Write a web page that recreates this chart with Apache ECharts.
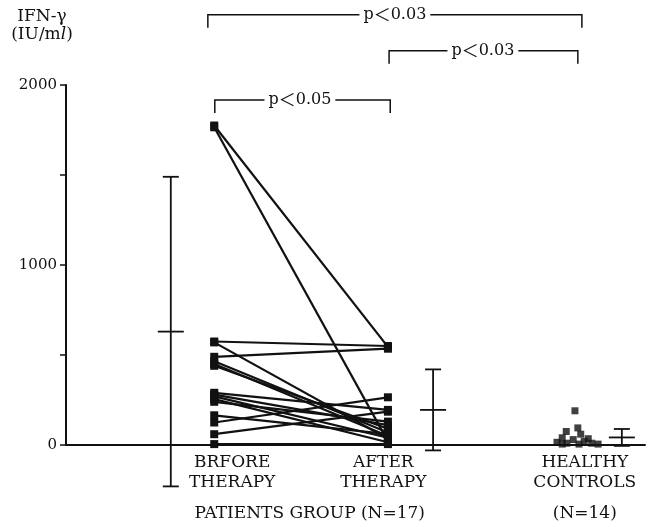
<!DOCTYPE html>
<html>
<head>
<meta charset="utf-8">
<script src="https://cdn.jsdelivr.net/npm/echarts@6/dist/echarts.min.js"></script>
<style>
  html, body { margin: 0; padding: 0; background: #fff; }
  #chart { width: 651px; height: 527px; }
</style>
</head>
<body>
<div id="chart"></div>
<script>
// IFN-γ, patients before / after therapy (paired), healthy controls
const beforeVals = [1775, 1765, 575, 570, 490, 465, 450, 440, 290, 280, 270, 255, 240, 165, 125, 60, 5];
const afterVals  = [545, 20, 550, 35, 535, 70, 50, 90, 195, 110, 40, 15, 130, 60, 265, 185, 5];

const healthyVals   = [190, 95, 75, 60, 40, 35, 30, 20, 15, 10, 10, 5, 5, 5];
const healthyJitter = [-0.4, 0.1, -1.9, 0.6, -2.6, 1.9, -0.7, 1.2, -3.5, -1.8, 2.5, 0.3, 3.6, -2.6];

// mean ± SD bars
const statMeans = [630, 195, 42];
const statSD    = [860, 225, 47];

const groupLabels = ['BRFORE\nTHERAPY', 'AFTER\nTHERAPY', 'HEALTHY\nCONTROLS'];
const footLabels  = ['PATIENTS GROUP (N=17)', '(N=14)'];
const yLabels     = [0, 1000, 2000];

const bracketTexts = ['0.03', '0.03', '0.05'];

// layout (x in axis units 0..100)
const X_BEFORE = 25.6, X_AFTER = 55.6, X_HEALTHY = 88.3;
const X_ERR = [18.1, 63.4, 96.0];
const X_GROUPLBL = [28.7, 54.8, 89.6];
const X_FOOT = [42.1, 89.6];
const BRACKETS = [[24.5, 89.1, 2390, 56.8], [55.8, 88.4, 2190, 72.0], [25.7, 56.0, 1917, 40.4]];

const SERIF = '"DejaVu Serif", "Liberation Serif", serif';
const CJK = '"Noto Sans CJK JP", sans-serif';
const INK = '#111';

const chart = echarts.init(document.getElementById('chart'));

const pairSeries = beforeVals.map((b, i) => ({
  type: 'line',
  data: [[X_BEFORE, b], [X_AFTER, afterVals[i]]],
  symbol: 'rect',
  symbolSize: 8,
  lineStyle: { color: INK, width: 2.2 },
  itemStyle: { color: INK },
  z: 3
}));

const option = {
  animation: false,
  backgroundColor: '#fff',
  grid: { left: 66, right: 6, top: 85, bottom: 82 },
  xAxis: {
    type: 'value', min: 0, max: 100,
    axisLine: { lineStyle: { color: INK, width: 2 } },
    axisTick: { show: false }, axisLabel: { show: false }, splitLine: { show: false }
  },
  yAxis: {
    type: 'value', min: 0, max: 2000, interval: 500,
    axisLine: { show: true, lineStyle: { color: INK, width: 2 } },
    axisTick: { show: true, length: 6, lineStyle: { color: INK, width: 1.5 } },
    axisLabel: {
      color: INK, fontFamily: SERIF, fontSize: 15, margin: 9,
      formatter: v => (yLabels.indexOf(v) >= 0 ? String(v) : '')
    },
    splitLine: { show: false }
  },
  graphic: [{
    type: 'text', x: 42, y: 8,
    style: {
      text: 'IFN-γ\n(IU/m{it|l})',
      fontFamily: SERIF, fontSize: 17, fill: INK, align: 'center',
      lineHeight: 18,
      rich: { it: { fontStyle: 'italic', fontFamily: SERIF, fontSize: 17 } }
    }
  }],
  series: [
    ...pairSeries,
    {
      type: 'scatter',
      data: healthyVals.map((v, i) => [X_HEALTHY + healthyJitter[i], v]),
      symbol: 'rect', symbolSize: 7,
      itemStyle: { color: INK }, z: 3
    },
    {
      // mean ± SD bars
      type: 'custom', clip: false,
      data: statMeans.map((m, i) => [X_ERR[i], m, statSD[i]]),
      renderItem(params, api) {
        const x = api.value(0), m = api.value(1), s = api.value(2);
        const top = api.coord([x, m + s]), mid = api.coord([x, m]), bot = api.coord([x, m - s]);
        const cap = 8, mw = 13, st = { stroke: INK, lineWidth: 1.8 };
        return {
          type: 'group', children: [
            { type: 'line', shape: { x1: top[0], y1: top[1], x2: bot[0], y2: bot[1] }, style: st },
            { type: 'line', shape: { x1: top[0] - cap, y1: top[1], x2: top[0] + cap, y2: top[1] }, style: st },
            { type: 'line', shape: { x1: bot[0] - cap, y1: bot[1], x2: bot[0] + cap, y2: bot[1] }, style: st },
            { type: 'line', shape: { x1: mid[0] - mw, y1: mid[1], x2: mid[0] + mw, y2: mid[1] }, style: st }
          ]
        };
      },
      z: 2
    },
    {
      // significance brackets
      type: 'custom', clip: false,
      data: BRACKETS.map((b, i) => [b[0], b[1], b[2], b[3], i]),
      renderItem(params, api) {
        const a = api.coord([api.value(0), api.value(2)]);
        const b = api.coord([api.value(1), api.value(2)]);
        const t = api.coord([api.value(3), api.value(2)]);
        const st = { stroke: INK, lineWidth: 1.5, fill: null };
        return {
          type: 'group', children: [
            { type: 'polyline', shape: { points: [[a[0], a[1] + 13], [a[0], a[1]], [b[0], b[1]], [b[0], b[1] + 13]] }, style: st },
            {
              type: 'text', x: t[0], y: t[1], z2: 10,
              style: {
                text: 'p{lt|＜}' + bracketTexts[api.value(4)],
                fontFamily: SERIF, fontSize: 16, fill: INK,
                align: 'center', verticalAlign: 'middle',
                backgroundColor: '#fff', padding: [0, 4],
                rich: { lt: { fontFamily: CJK, fontSize: 17, fill: INK } }
              }
            }
          ]
        };
      }
    },
    {
      // group labels under the axis
      type: 'custom', clip: false, silent: true,
      data: X_GROUPLBL.map((x, i) => [x, 0, i]),
      renderItem(params, api) {
        const p = api.coord([api.value(0), 0]);
        return {
          type: 'text', x: p[0], y: p[1] + 8,
          style: {
            text: groupLabels[api.value(2)], fontFamily: SERIF, fontSize: 17, fill: INK,
            align: 'center', verticalAlign: 'top', lineHeight: 20
          }
        };
      }
    },
    {
      type: 'custom', clip: false, silent: true,
      data: X_FOOT.map((x, i) => [x, 0, i]),
      renderItem(params, api) {
        const p = api.coord([api.value(0), 0]);
        return {
          type: 'text', x: p[0], y: p[1] + 60,
          style: {
            text: footLabels[api.value(2)], fontFamily: SERIF, fontSize: 17, fill: INK,
            align: 'center', verticalAlign: 'top'
          }
        };
      }
    }
  ]
};

chart.setOption(option);
</script>
</body>
</html>
